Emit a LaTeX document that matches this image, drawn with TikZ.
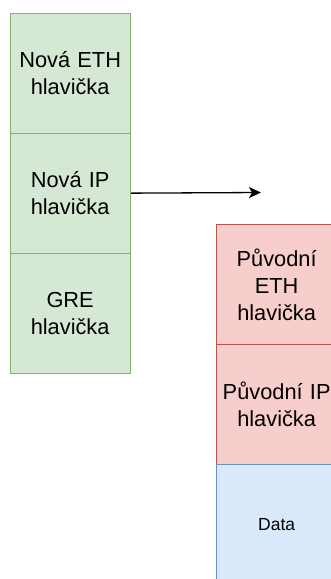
\documentclass[tikz,border=0pt]{standalone}
\usepackage{fontspec}
\setmainfont{Liberation Sans}
\usetikzlibrary{arrows.meta}
\definecolor{gfill}{HTML}{D5E8D4}
\definecolor{gline}{HTML}{82B366}
\definecolor{rfill}{HTML}{F8CECC}
\definecolor{rline}{HTML}{B85450}
\definecolor{bfill}{HTML}{DAE8FC}
\definecolor{bline}{HTML}{6C8EBF}
\tikzset{
  cell/.style={draw, line width=1.3pt, rectangle, minimum width=120pt, minimum height=120pt,
    inner sep=0pt, align=center, text width=118pt,
    font=\fontsize{21.8}{27}\selectfont, anchor=north west},
  gcell/.style={cell, fill=gfill, draw=gline},
  rcell/.style={cell, fill=rfill, draw=rline},
  bcell/.style={cell, fill=bfill, draw=bline, font=\fontsize{17.5}{21}\selectfont},
  conn/.style={line width=1.3pt, -{Stealth[length=12pt,width=11pt,inset=3pt]}}
}
\begin{document}
\begin{tikzpicture}[x=1pt,y=-1pt]
\useasboundingbox (0,0) rectangle (331,579);
\clip (0,0) rectangle (331,579);
\node[gcell] (eth) at (9.5,12.5) {Nová ETH\\hlavička};
\node[gcell] (ip) at (9.5,132.5) {Nová IP\\hlavička};
\node[gcell] (gre) at (9.5,252.5) {GRE\\hlavička};
\node[rcell] (oeth) at (216,224) {Původní\\ETH\\hlavička};
\node[rcell] (oip) at (216,344) {Původní IP\\hlavička};
\node[bcell] (data) at (216,464) {Data};
\coordinate (tgt) at (261,192.5);
\draw[conn] (ip.east) -- (tgt);
\end{tikzpicture}
\end{document}
